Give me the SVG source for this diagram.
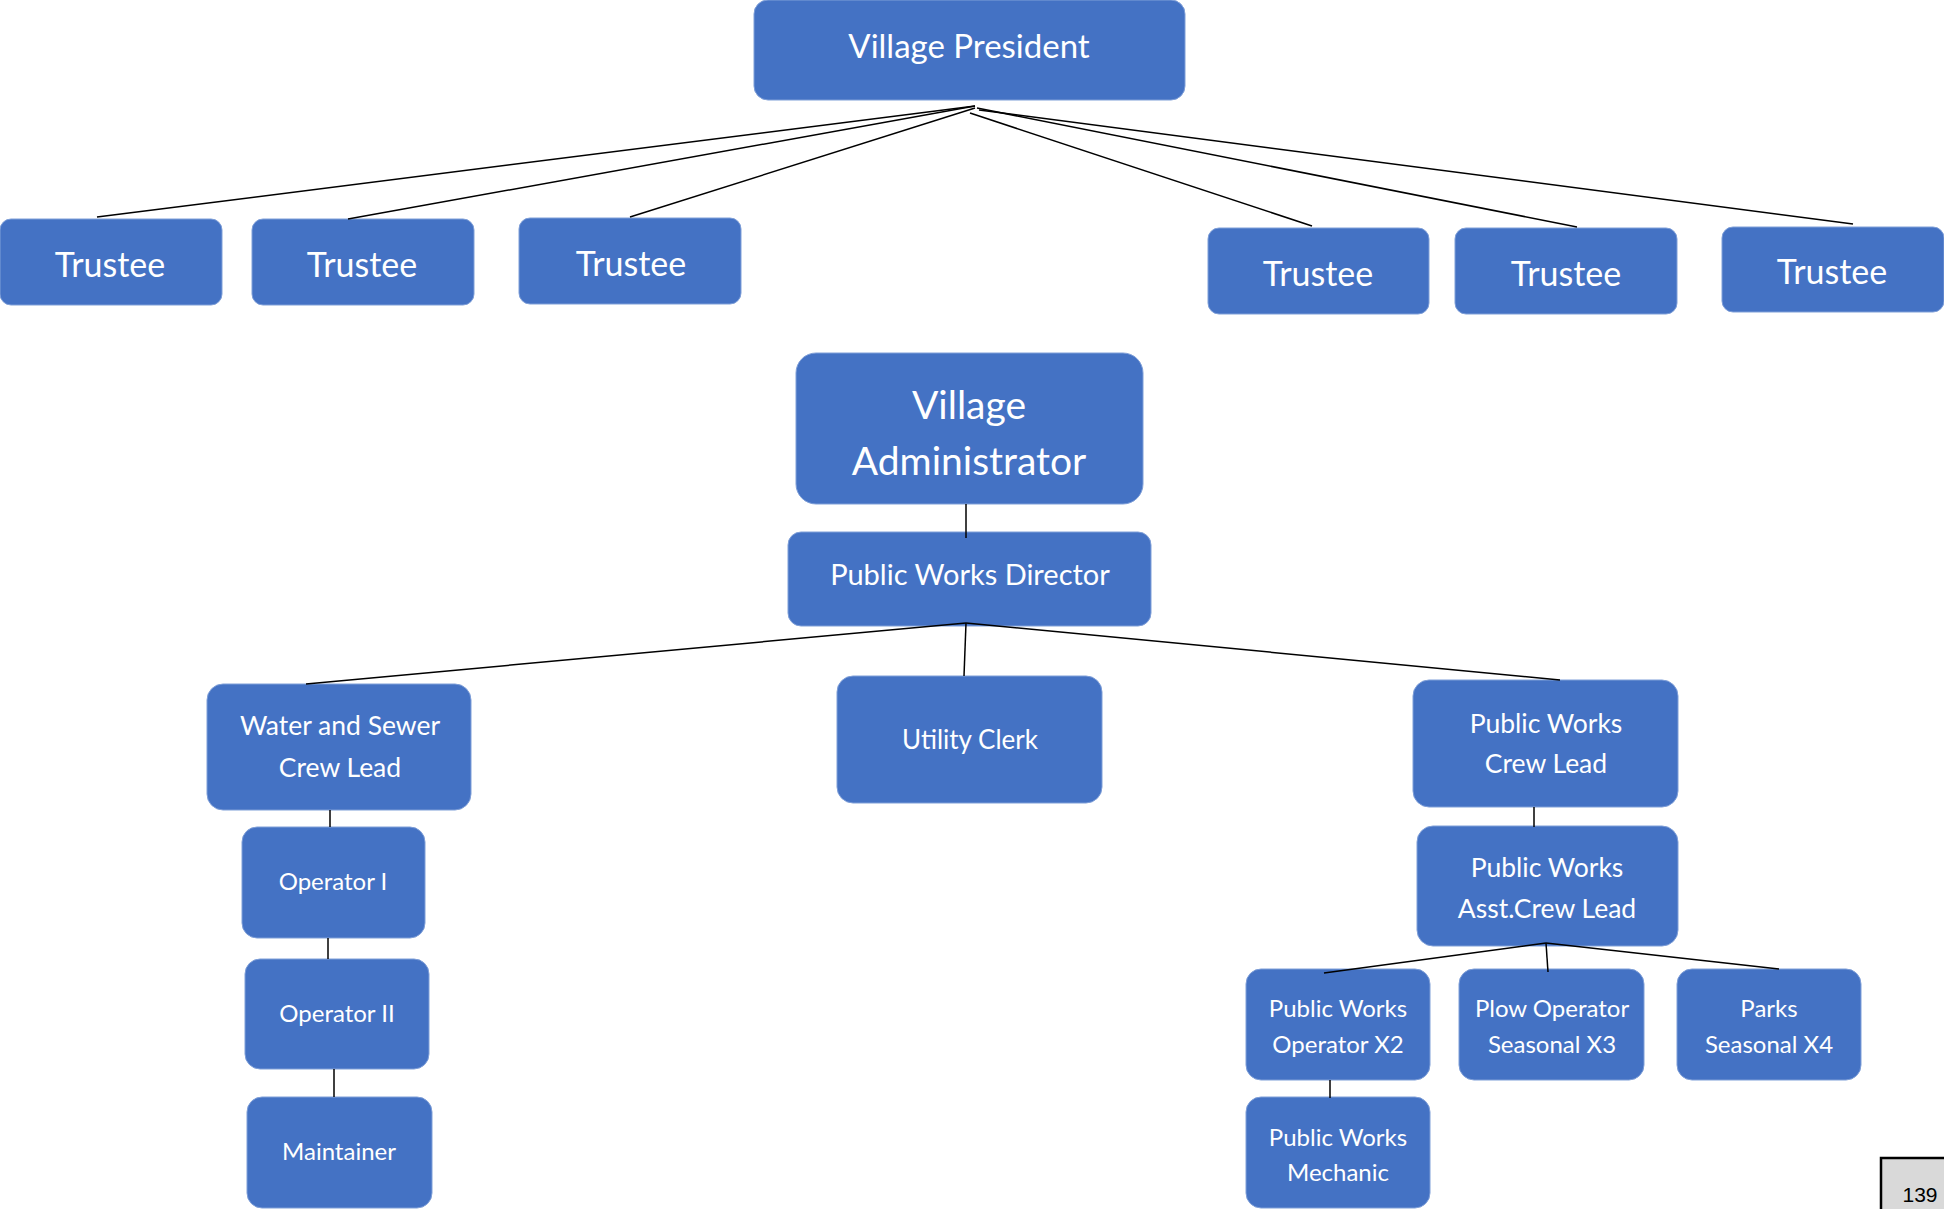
<svg xmlns="http://www.w3.org/2000/svg" width="1944" height="1209" viewBox="0 0 1944 1209">
  <style>
    .box { fill: #4472C4; stroke: #7f9fd8; stroke-width: 1; }
    .lbl { fill: #ffffff; font-family: Lato, "Open Sans", "Liberation Sans", sans-serif; text-anchor: middle; }
    .conn line { stroke: #000000; stroke-width: 1.5; }
    .page { fill: #d9d9d9; stroke: #000000; stroke-width: 2.5; }
    .pnum { fill: #000000; font-family: "Liberation Sans", Arial, sans-serif; font-size: 21px; text-anchor: middle; }
  </style>

  <g id="village-president">
    <rect class="box" x="754" y="0" width="431" height="100" rx="14"/>
    <text class="lbl" x="969" y="58" font-size="33">Village President</text>
  </g>

  <g id="trustee-1">
    <rect class="box" x="0" y="219" width="222" height="86" rx="11"/>
    <text class="lbl" x="110" y="277" font-size="34">Trustee</text>
  </g>
  <g id="trustee-2">
    <rect class="box" x="252" y="219" width="222" height="86" rx="11"/>
    <text class="lbl" x="362" y="277" font-size="34">Trustee</text>
  </g>
  <g id="trustee-3">
    <rect class="box" x="519" y="218" width="222" height="86" rx="11"/>
    <text class="lbl" x="631" y="276" font-size="34">Trustee</text>
  </g>
  <g id="trustee-4">
    <rect class="box" x="1208" y="228" width="221" height="86" rx="11"/>
    <text class="lbl" x="1318" y="286" font-size="34">Trustee</text>
  </g>
  <g id="trustee-5">
    <rect class="box" x="1455" y="228" width="222" height="86" rx="11"/>
    <text class="lbl" x="1566" y="286" font-size="34">Trustee</text>
  </g>
  <g id="trustee-6">
    <rect class="box" x="1722" y="227" width="222" height="85" rx="11"/>
    <text class="lbl" x="1832" y="284" font-size="34">Trustee</text>
  </g>

  <g id="village-administrator">
    <rect class="box" x="796" y="353" width="347" height="151" rx="20"/>
    <text class="lbl" x="969" y="419" font-size="39">Village</text>
    <text class="lbl" x="969" y="475" font-size="39">Administrator</text>
  </g>

  <g id="public-works-director">
    <rect class="box" x="788" y="532" width="363" height="94" rx="13"/>
    <text class="lbl" x="970" y="585" font-size="29">Public Works Director</text>
  </g>

  <g id="water-sewer-crew-lead">
    <rect class="box" x="207" y="684" width="264" height="126" rx="16"/>
    <text class="lbl" x="340" y="735" font-size="26.5">Water and Sewer</text>
    <text class="lbl" x="340" y="777" font-size="26.5">Crew Lead</text>
  </g>

  <g id="operator-1">
    <rect class="box" x="242" y="827" width="183" height="111" rx="15"/>
    <text class="lbl" x="333" y="890" font-size="24">Operator I</text>
  </g>
  <g id="operator-2">
    <rect class="box" x="245" y="959" width="184" height="110" rx="15"/>
    <text class="lbl" x="337" y="1022" font-size="24">Operator II</text>
  </g>
  <g id="maintainer">
    <rect class="box" x="247" y="1097" width="185" height="111" rx="15"/>
    <text class="lbl" x="339" y="1160" font-size="24">Maintainer</text>
  </g>

  <g id="utility-clerk">
    <rect class="box" x="837" y="676" width="265" height="127" rx="16"/>
    <text class="lbl" x="970" y="749" font-size="26">Utility Clerk</text>
  </g>

  <g id="pw-crew-lead">
    <rect class="box" x="1413" y="680" width="265" height="127" rx="16"/>
    <text class="lbl" x="1546" y="733" font-size="26.5">Public Works</text>
    <text class="lbl" x="1546" y="773" font-size="26.5">Crew Lead</text>
  </g>

  <g id="pw-asst-crew-lead">
    <rect class="box" x="1417" y="826" width="261" height="120" rx="16"/>
    <text class="lbl" x="1547" y="877" font-size="26.5">Public Works</text>
    <text class="lbl" x="1547" y="918" font-size="26.5">Asst.Crew Lead</text>
  </g>

  <g id="pw-operator">
    <rect class="box" x="1246" y="969" width="184" height="111" rx="15"/>
    <text class="lbl" x="1338" y="1017" font-size="24">Public Works</text>
    <text class="lbl" x="1338" y="1053" font-size="24">Operator X2</text>
  </g>
  <g id="plow-operator">
    <rect class="box" x="1459" y="969" width="185" height="111" rx="15"/>
    <text class="lbl" x="1552" y="1017" font-size="24">Plow Operator</text>
    <text class="lbl" x="1552" y="1053" font-size="24">Seasonal X3</text>
  </g>
  <g id="parks-seasonal">
    <rect class="box" x="1677" y="969" width="184" height="111" rx="15"/>
    <text class="lbl" x="1769" y="1017" font-size="24">Parks</text>
    <text class="lbl" x="1769" y="1053" font-size="24">Seasonal X4</text>
  </g>
  <g id="pw-mechanic">
    <rect class="box" x="1246" y="1097" width="184" height="111" rx="15"/>
    <text class="lbl" x="1338" y="1146" font-size="24">Public Works</text>
    <text class="lbl" x="1338" y="1181" font-size="24">Mechanic</text>
  </g>

  <!-- connectors, painted over the box edges -->
  <g id="connectors" class="conn">
    <line x1="975" y1="106" x2="97" y2="217"/>
    <line x1="975" y1="106" x2="348" y2="219"/>
    <line x1="975" y1="108" x2="630" y2="217"/>
    <line x1="970" y1="113" x2="1312" y2="226"/>
    <line x1="977" y1="108" x2="1577" y2="227"/>
    <line x1="979" y1="110" x2="1853" y2="224"/>
    <line x1="966" y1="504" x2="966" y2="538"/>
    <line x1="966" y1="623" x2="306" y2="684"/>
    <line x1="966" y1="623" x2="964" y2="676"/>
    <line x1="966" y1="623" x2="1560" y2="680"/>
    <line x1="330" y1="810" x2="330" y2="827"/>
    <line x1="328" y1="938" x2="328" y2="959"/>
    <line x1="334" y1="1069" x2="334" y2="1097"/>
    <line x1="1534" y1="807" x2="1534" y2="827"/>
    <line x1="1546" y1="943" x2="1324" y2="973"/>
    <line x1="1546" y1="943" x2="1548" y2="972"/>
    <line x1="1546" y1="943" x2="1779" y2="969"/>
    <line x1="1330" y1="1080" x2="1330" y2="1098"/>
  </g>

  <!-- page number tab, bottom right -->
  <g id="page-number">
    <rect class="page" x="1881" y="1158" width="70" height="60"/>
    <text class="pnum" x="1920" y="1202">139</text>
  </g>
</svg>
